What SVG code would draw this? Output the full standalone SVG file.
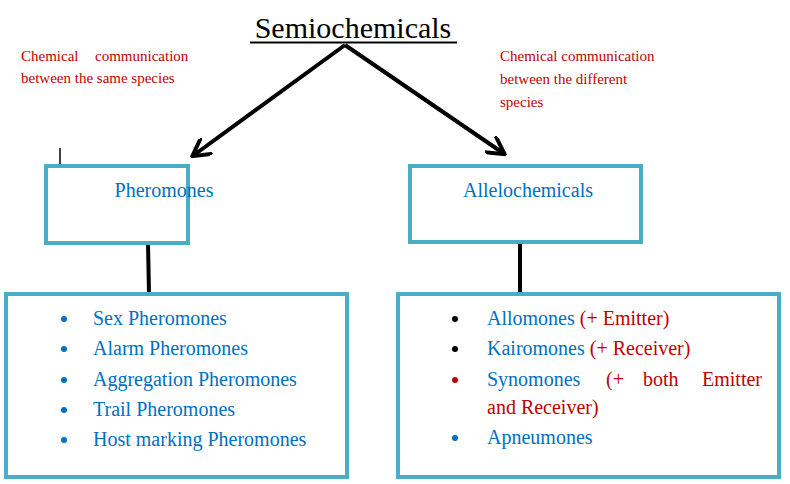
<svg xmlns="http://www.w3.org/2000/svg" width="790" height="484" viewBox="0 0 790 484" font-family="'Liberation Serif', 'Times New Roman', 'DejaVu Serif', serif">
<defs>
<style>
.box{fill:#fff;stroke:#4BACC6;stroke-width:4}
.red{fill:#C00000;font-size:15px}
.blue{fill:#0070C0;font-size:20px}
.r{fill:#C00000}
.conn{stroke:#000;stroke-width:4;fill:none}
</style>
<marker id="ah" viewBox="0 0 10 10" refX="8" refY="5" markerWidth="5" markerHeight="5" orient="auto" markerUnits="strokeWidth">
<path d="M0,0 L9,5 L0,10" fill="none" stroke="#000" stroke-width="2"/>
</marker>
</defs>
<rect width="790" height="484" fill="#fff"/>
<g id="connectors">
<line class="conn" x1="345" y1="45" x2="194" y2="155" marker-end="url(#ah)"/>
<line class="conn" x1="345" y1="45" x2="503" y2="153" marker-end="url(#ah)"/>
<line class="conn" x1="148" y1="243" x2="149" y2="294"/>
<line class="conn" x1="520" y1="242" x2="520" y2="294"/>
</g>
<g id="title">
<text x="353" y="38" font-size="30" text-anchor="middle" fill="#000">Semiochemicals</text>
<line x1="250" y1="42.5" x2="457" y2="42.5" stroke="#000" stroke-width="2"/>
</g>
<g id="label-same">
<text class="red" x="21" y="61">Chemical</text>
<text class="red" x="95" y="61">communication</text>
<text class="red" x="21" y="83">between the same species</text>
</g>
<g id="label-different">
<text class="red" x="500" y="61">Chemical communication</text>
<text class="red" x="500" y="84">between the different</text>
<text class="red" x="500" y="107">species</text>
</g>
<line x1="60" y1="148" x2="60" y2="174" stroke="#000" stroke-width="1.5"/>
<g id="pheromones">
<rect class="box" x="46" y="166" width="142" height="77"/>
<text class="blue" x="164" y="197" text-anchor="middle">Pheromones</text>
</g>
<g id="allelochemicals">
<rect class="box" x="410" y="166" width="231" height="76"/>
<text class="blue" x="528" y="197" text-anchor="middle">Allelochemicals</text>
</g>
<g id="pheromone-list">
<rect class="box" x="6" y="294" width="341" height="183"/>
<g fill="#0070C0"><circle cx="64" cy="319" r="3"/><circle cx="64" cy="349" r="3"/><circle cx="64" cy="380" r="3"/><circle cx="64" cy="410" r="3"/><circle cx="64" cy="440" r="3"/></g>
<text class="blue" x="93" y="325">Sex Pheromones</text>
<text class="blue" x="93" y="355">Alarm Pheromones</text>
<text class="blue" x="93" y="386">Aggregation Pheromones</text>
<text class="blue" x="93" y="416">Trail Pheromones</text>
<text class="blue" x="93" y="446">Host marking Pheromones</text>
</g>
<g id="allelochemical-list">
<rect class="box" x="398" y="294" width="381" height="183"/>
<circle cx="455" cy="319" r="3" fill="#000"/>
<circle cx="455" cy="349" r="3" fill="#000"/>
<circle cx="455" cy="380" r="3" fill="#C00000"/>
<circle cx="455" cy="438" r="3" fill="#0070C0"/>
<text class="blue" x="487" y="325">Allomones <tspan class="r">(+ Emitter)</tspan></text>
<text class="blue" x="487" y="355">Kairomones <tspan class="r">(+ Receiver)</tspan></text>
<text class="blue" x="487" y="386">Synomones <tspan class="r" x="606">(+</tspan><tspan class="r" x="643">both</tspan><tspan class="r" x="762" text-anchor="end">Emitter</tspan></text>
<text class="blue r" x="487" y="414">and Receiver)</text>
<text class="blue" x="487" y="444">Apneumones</text>
</g>
</svg>
